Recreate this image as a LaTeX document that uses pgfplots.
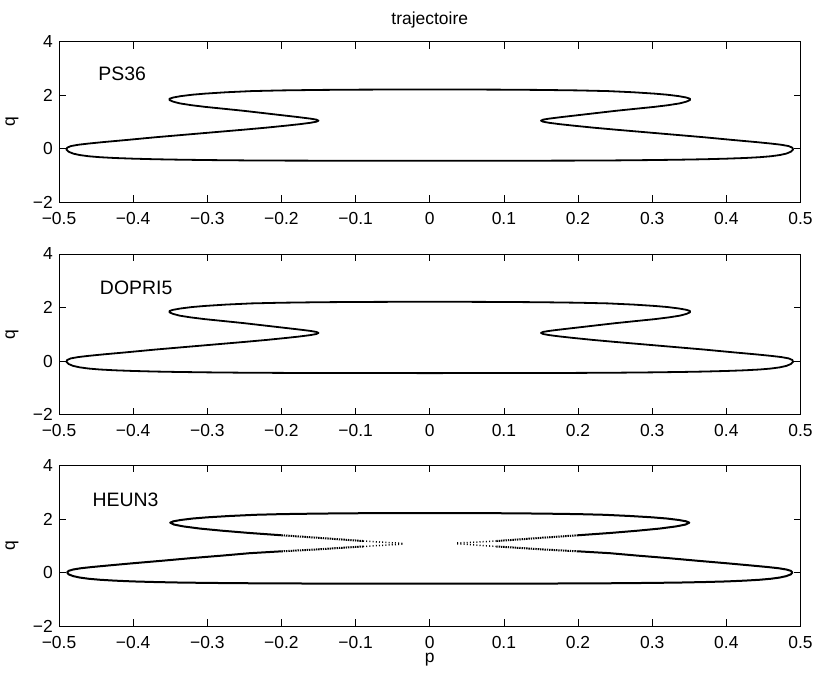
\documentclass[border=0pt]{standalone}
\usepackage{pgfplots}
\pgfplotsset{compat=1.18}
\usepackage{fontspec}
\setmainfont{Liberation Sans}
\newcommand{\tickfont}{\fontsize{17.5}{20}\selectfont}
\newcommand{\lblfont}{\fontsize{19.5}{22}\selectfont}
\newcommand{\titfont}{\fontsize{17.5}{20}\selectfont}
\tikzset{lbl/.style={anchor=west, inner sep=0pt, font=\lblfont}}
\pgfplotsset{
  trajaxis/.style={
    scale only axis, width=741.5bp, height=160.6bp, anchor=south west,
    xmin=-0.5, xmax=0.5, ymin=-2, ymax=4,
    xtick={-0.5,-0.4,-0.3,-0.2,-0.1,0,0.1,0.2,0.3,0.4,0.5},
    xticklabels={−0.5,−0.4,−0.3,−0.2,−0.1,0,0.1,0.2,0.3,0.4,0.5},
    ytick={-2,0,2,4}, yticklabels={−2,0,2,4},
    tick align=inside, tick pos=both, major tick length=7bp,
    axis line style={line width=0.8bp},
    every tick/.style={black, line width=0.8bp},
    xticklabel style={font=\tickfont, anchor=north, inner sep=0pt, yshift=-10bp},
    yticklabel style={font=\tickfont, anchor=east, inner sep=0pt, xshift=-6bp},
    ylabel={q},
    ylabel style={font=\tickfont, at={(axis description cs:-0.0634,0.5)}, anchor=center},
  },
  curve/.style={black, line width=1.8bp, line join=round, no markers},
  dense/.style={black, line width=2bp, dash pattern=on 1.4bp off 0.9bp, no markers},
  sparse/.style={black, line width=1.5bp, dash pattern=on 1bp off 2.2bp, no markers},
}
\begin{document}
\begin{tikzpicture}
\useasboundingbox (0,0) rectangle (817bp,678bp);
% ---------------- PS36 ----------------
\begin{axis}[trajaxis, at={(59bp,475.7bp)}, title={trajectoire},
  title style={at={(axis description cs:0.5,1)}, anchor=base, yshift=11bp, font=\titfont, inner sep=0pt}]
\addplot[curve] coordinates {
(0.000,-0.450) (0.100,-0.448) (0.200,-0.442) (0.250,-0.435) (0.300,-0.422) (0.340,-0.407)
(0.370,-0.392) (0.400,-0.370) (0.425,-0.345) (0.445,-0.315) (0.460,-0.280) (0.472,-0.235)
(0.481,-0.180) (0.487,-0.110) (0.490,-0.030) (0.489,0.040) (0.484,0.100) (0.474,0.150)
(0.460,0.195) (0.440,0.250) (0.410,0.325) (0.370,0.430) (0.330,0.525) (0.290,0.620)
(0.250,0.715) (0.220,0.790) (0.195,0.860) (0.175,0.920) (0.161,0.970) (0.153,1.010)
(0.150,1.050) (0.153,1.090) (0.162,1.130) (0.178,1.185) (0.200,1.255) (0.225,1.335)
(0.250,1.415) (0.278,1.495) (0.303,1.565) (0.322,1.630) (0.337,1.695) (0.346,1.760)
(0.351,1.820) (0.351,1.870) (0.346,1.915) (0.336,1.965) (0.320,2.020) (0.303,2.060)
(0.275,2.110) (0.240,2.155) (0.200,2.180) (0.150,2.198) (0.100,2.208) (0.050,2.213)
(0.000,2.215)
(-0.050,2.213) (-0.100,2.208) (-0.150,2.198) (-0.200,2.180) (-0.240,2.155) (-0.275,2.110)
(-0.303,2.060) (-0.320,2.020) (-0.336,1.965) (-0.346,1.915) (-0.351,1.870) (-0.351,1.820)
(-0.346,1.760) (-0.337,1.695) (-0.322,1.630) (-0.303,1.565) (-0.278,1.495) (-0.250,1.415)
(-0.225,1.335) (-0.200,1.255) (-0.178,1.185) (-0.162,1.130) (-0.153,1.090) (-0.150,1.050)
(-0.153,1.010) (-0.161,0.970) (-0.175,0.920) (-0.195,0.860) (-0.220,0.790) (-0.250,0.715)
(-0.290,0.620) (-0.330,0.525) (-0.370,0.430) (-0.410,0.325) (-0.440,0.250) (-0.460,0.195)
(-0.474,0.150) (-0.484,0.100) (-0.489,0.040) (-0.490,-0.030) (-0.487,-0.110) (-0.481,-0.180)
(-0.472,-0.235) (-0.460,-0.280) (-0.445,-0.315) (-0.425,-0.345) (-0.400,-0.370) (-0.370,-0.392)
(-0.340,-0.407) (-0.300,-0.422) (-0.250,-0.435) (-0.200,-0.442) (-0.100,-0.448) (0.000,-0.450)
};
\node[lbl] at (axis cs:-0.447,2.79) {PS36};
\end{axis}
% ---------------- DOPRI5 ----------------
\begin{axis}[trajaxis, at={(59bp,263.4bp)}]
\addplot[curve] coordinates {
(0.000,-0.450) (0.100,-0.448) (0.200,-0.442) (0.250,-0.435) (0.300,-0.422) (0.340,-0.407)
(0.370,-0.392) (0.400,-0.370) (0.425,-0.345) (0.445,-0.315) (0.460,-0.280) (0.472,-0.235)
(0.481,-0.180) (0.487,-0.110) (0.490,-0.030) (0.489,0.040) (0.484,0.100) (0.474,0.150)
(0.460,0.195) (0.440,0.250) (0.410,0.325) (0.370,0.430) (0.330,0.525) (0.290,0.620)
(0.250,0.715) (0.220,0.790) (0.195,0.860) (0.175,0.920) (0.161,0.970) (0.153,1.010)
(0.150,1.050) (0.153,1.090) (0.162,1.130) (0.178,1.185) (0.200,1.255) (0.225,1.335)
(0.250,1.415) (0.278,1.495) (0.303,1.565) (0.322,1.630) (0.337,1.695) (0.346,1.760)
(0.351,1.820) (0.351,1.870) (0.346,1.915) (0.336,1.965) (0.320,2.020) (0.303,2.060)
(0.275,2.110) (0.240,2.155) (0.200,2.180) (0.150,2.198) (0.100,2.208) (0.050,2.213)
(0.000,2.215)
(-0.050,2.213) (-0.100,2.208) (-0.150,2.198) (-0.200,2.180) (-0.240,2.155) (-0.275,2.110)
(-0.303,2.060) (-0.320,2.020) (-0.336,1.965) (-0.346,1.915) (-0.351,1.870) (-0.351,1.820)
(-0.346,1.760) (-0.337,1.695) (-0.322,1.630) (-0.303,1.565) (-0.278,1.495) (-0.250,1.415)
(-0.225,1.335) (-0.200,1.255) (-0.178,1.185) (-0.162,1.130) (-0.153,1.090) (-0.150,1.050)
(-0.153,1.010) (-0.161,0.970) (-0.175,0.920) (-0.195,0.860) (-0.220,0.790) (-0.250,0.715)
(-0.290,0.620) (-0.330,0.525) (-0.370,0.430) (-0.410,0.325) (-0.440,0.250) (-0.460,0.195)
(-0.474,0.150) (-0.484,0.100) (-0.489,0.040) (-0.490,-0.030) (-0.487,-0.110) (-0.481,-0.180)
(-0.472,-0.235) (-0.460,-0.280) (-0.445,-0.315) (-0.425,-0.345) (-0.400,-0.370) (-0.370,-0.392)
(-0.340,-0.407) (-0.300,-0.422) (-0.250,-0.435) (-0.200,-0.442) (-0.100,-0.448) (0.000,-0.450)
};
\node[lbl] at (axis cs:-0.445,2.73) {DOPRI5};
\end{axis}
% ---------------- HEUN3 ----------------
\begin{axis}[trajaxis, at={(59bp,52bp)}, xlabel={p},
  xlabel style={font=\tickfont, at={(axis description cs:0.5,0)}, anchor=base, yshift=-36bp, inner sep=0pt}]
% upper solid part
\addplot[curve, line width=2bp] coordinates {
(-0.200,1.390) (-0.243,1.475) (-0.280,1.560) (-0.310,1.640) (-0.332,1.720)
(-0.345,1.790) (-0.350,1.860) (-0.346,1.910) (-0.336,1.960) (-0.320,2.015) (-0.300,2.060)
(-0.270,2.110) (-0.235,2.155) (-0.200,2.180) (-0.150,2.200) (-0.100,2.212) (-0.050,2.218)
(0.000,2.220) (0.050,2.218) (0.100,2.212) (0.150,2.200) (0.200,2.180) (0.235,2.155)
(0.270,2.110) (0.300,2.060) (0.320,2.015) (0.336,1.960) (0.346,1.910) (0.350,1.860)
(0.345,1.790) (0.332,1.720) (0.310,1.640) (0.280,1.560) (0.243,1.475) (0.200,1.390)
};
% lower solid part
\addplot[curve, line width=2bp] coordinates {
(-0.200,0.790) (-0.243,0.720) (-0.280,0.630) (-0.320,0.540) (-0.360,0.440)
(-0.400,0.345) (-0.430,0.270) (-0.455,0.205) (-0.470,0.160) (-0.481,0.110) (-0.487,0.060)
(-0.489,0.000) (-0.487,-0.070) (-0.481,-0.135) (-0.472,-0.190) (-0.460,-0.235) (-0.445,-0.272)
(-0.425,-0.305) (-0.400,-0.335) (-0.370,-0.358) (-0.340,-0.375) (-0.300,-0.390) (-0.250,-0.402)
(-0.200,-0.410) (-0.100,-0.418) (0.000,-0.420) (0.100,-0.418) (0.200,-0.410) (0.250,-0.402)
(0.300,-0.390) (0.340,-0.375) (0.370,-0.358) (0.400,-0.335) (0.425,-0.305) (0.445,-0.272)
(0.460,-0.235) (0.472,-0.190) (0.481,-0.135) (0.487,-0.070) (0.489,0.000) (0.487,0.060)
(0.481,0.110) (0.470,0.160) (0.455,0.205) (0.430,0.270) (0.400,0.345) (0.360,0.440)
(0.320,0.540) (0.280,0.630) (0.243,0.720) (0.200,0.790)
};
% speckled inner tips
\addplot[dense] coordinates {(-0.200,1.390) (-0.153,1.300) (-0.108,1.210) (-0.090,1.175)};
\addplot[dense] coordinates {(-0.200,0.790) (-0.153,0.860) (-0.108,0.940) (-0.090,0.970)};
\addplot[dense] coordinates {(0.200,1.390) (0.153,1.300) (0.108,1.210) (0.090,1.175)};
\addplot[dense] coordinates {(0.200,0.790) (0.153,0.860) (0.108,0.940) (0.090,0.970)};
\addplot[sparse] coordinates {(-0.090,1.175) (-0.060,1.125) (-0.036,1.085)};
\addplot[sparse] coordinates {(-0.090,0.970) (-0.060,1.020) (-0.036,1.060)};
\addplot[sparse] coordinates {(0.090,1.175) (0.060,1.130) (0.036,1.100)};
\addplot[sparse] coordinates {(0.090,0.970) (0.060,1.030) (0.036,1.075)};
\node[lbl] at (axis cs:-0.455,2.71) {HEUN3};
\end{axis}
\end{tikzpicture}
\end{document}
